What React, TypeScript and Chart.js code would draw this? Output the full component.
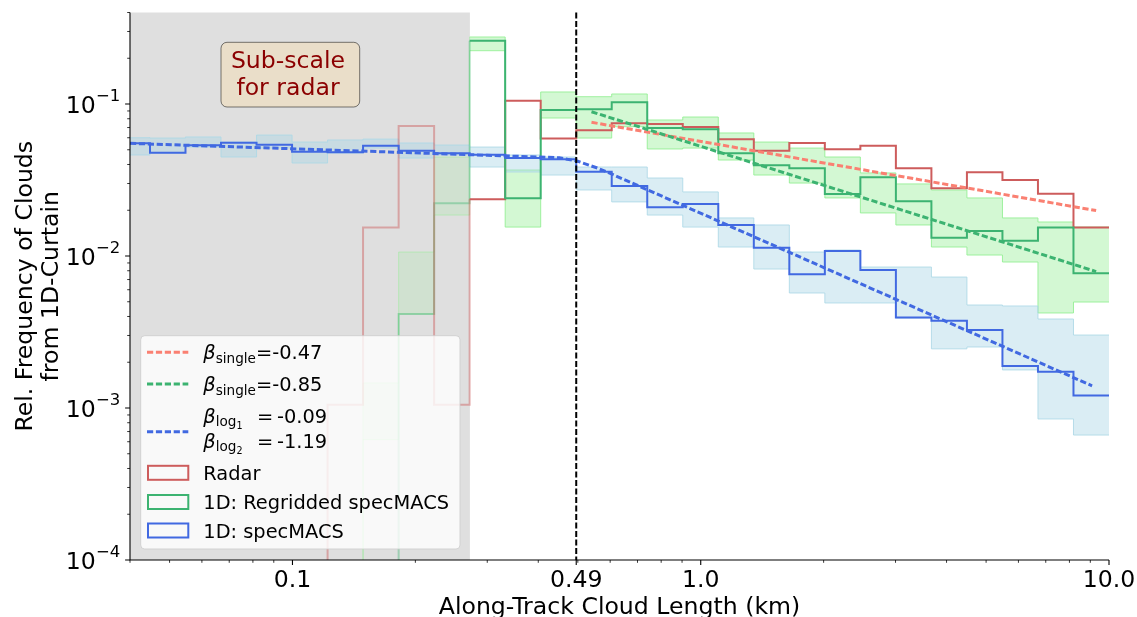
import React, { useEffect, useRef } from "react";
import { Chart, registerables } from "chart.js";

Chart.register(...registerables);

// ---------------- data ----------------
// logarithmic bin edges (km)
const BIN_EDGES = [
  0.03664, 0.04477, 0.0547, 0.06683, 0.08166, 0.09977, 0.1219, 0.1489, 0.182,
  0.2223, 0.2716, 0.3319, 0.4055, 0.4955, 0.6053, 0.7396, 0.9036, 1.1041,
  1.349, 1.6482, 2.0137, 2.4604, 3.0061, 3.6728, 4.4875, 5.4828, 6.6988,
  8.1846, 10.0,
];

// relative frequency per bin (0 = empty bin)
const RADAR = [
  0, 0, 0, 0, 0, 0, 0.00105, 0.0154, 0.0716, 0.00105, 0.0236, 0.105, 0.0593,
  0.0671, 0.0746, 0.0739, 0.0706, 0.0586, 0.0493, 0.0554, 0.0504, 0.0532,
  0.0378, 0.0279, 0.0356, 0.0316, 0.0257, 0.0154,
];
const REGRIDDED = [
  0, 0, 0, 0, 0, 0, 0, 0, 0.00416, 0.0222, 0.261, 0.024, 0.0913, 0.0923,
  0.1026, 0.0695, 0.0681, 0.0474, 0.0395, 0.0378, 0.0256, 0.033, 0.0229,
  0.0132, 0.0146, 0.0126, 0.0154, 0.0077,
];
const SPECMACS = [
  0.0551, 0.0478, 0.0535, 0.0556, 0.054, 0.0485, 0.0481, 0.0532, 0.0493,
  0.0474, 0.0464, 0.0441, 0.0433, 0.0359, 0.0289, 0.0209, 0.022, 0.016,
  0.01134, 0.00758, 0.01079, 0.00809, 0.00394, 0.00375, 0.00326, 0.00189,
  0.00173, 0.00121,
];

// spread of the individual realisations (upper / lower envelope)
const SPECMACS_HI = [
  0.06, 0.0597, 0.0607, 0.0562, 0.0625, 0.0562, 0.058, 0.0588, 0.0554, 0.0537,
  0.0521, 0.0462, 0.0448, 0.0385, 0.0385, 0.0326, 0.0264, 0.0178, 0.016,
  0.01062, 0.01095, 0.00846, 0.00846, 0.00727, 0.00476, 0.00469, 0.00385,
  0.00302,
];
const SPECMACS_LO = [
  0.0462, 0.0476, 0.0521, 0.0448, 0.0513, 0.0409, 0.0476, 0.0513, 0.0441,
  0.0462, 0.0385, 0.0357, 0.0341, 0.0272, 0.0227, 0.0186, 0.0155, 0.01146,
  0.00821, 0.00571, 0.00491, 0.00491, 0.00391, 0.00245, 0.00252, 0.00178,
  0.000847, 0.000664,
];
const REGRIDDED_HI = [
  0, 0, 0, 0, 0, 0, 0, 0.00146, 0.01062, 0.0448, 0.276, 0.0368, 0.12, 0.1117,
  0.1164, 0.0785, 0.0821, 0.0645, 0.0562, 0.0513, 0.0448, 0.0352, 0.0298,
  0.0272, 0.0241, 0.0178, 0.01674, 0.0155,
];
const REGRIDDED_LO = [
  0, 0, 0, 0, 0, 0, 0, 0.00062, 0.00415, 0.0186, 0.2242, 0.0155, 0.0809,
  0.0597, 0.0709, 0.0506, 0.0513, 0.0428, 0.0341, 0.0302, 0.0241, 0.0192,
  0.016, 0.01146, 0.01015, 0.00913, 0.00422, 0.00498,
];

// fitted power laws
const FIT_RADAR_X = [0.54, 9.3];
const FIT_RADAR_Y = [0.0758, 0.0199];
const FIT_REGRIDDED_X = [0.54, 9.3];
const FIT_REGRIDDED_Y = [0.089, 0.0079];
const FIT_SPECMACS_X = [0.04, 0.3, 0.45, 0.5, 0.56, 0.61, 9.09];
const FIT_SPECMACS_Y = [0.0551, 0.046, 0.0443, 0.042, 0.0378, 0.0343, 0.0014];

const SUBSCALE_EDGE_INDEX = 10; // bins left of this edge are sub-scale for radar
const SUBSCALE_LIMIT = 0.272;
const BREAK_X = 0.4955;

const X_MIN = 0.04;
const X_MAX = 10;
const Y_MIN = 1e-4;
const Y_MAX = 0.4;
const X_TICKS = [0.1, BREAK_X, 1, 10];
const X_TICK_LABELS = ["0.1", "0.49", "1.0", "10.0"];
const Y_TICKS = [1e-4, 1e-3, 1e-2, 1e-1];
const Y_TICK_EXPONENTS = ["\u22124", "\u22123", "\u22122", "\u22121"];

// ---------------- styles ----------------
const FONT = '"DejaVu Sans", "Noto Sans", sans-serif';
const C_RADAR = "#cd5c5c";
const C_REGRID = "#3cb371";
const C_SPEC = "#4169e1";
const C_RADAR_FADED = "rgba(205,92,92,0.45)";
const C_REGRID_FADED = "rgba(60,179,113,0.4)";
const C_SALMON = "#fa8072";
const FIT_DASH = [6.2, 2.7];

const ZERO = 1e-7; // empty bins are drawn below the axis

function pos(v: number) {
  return v > 0 ? v : ZERO;
}

function steps(vals: number[], from: number, to: number, closeEnd: boolean) {
  const pts: { x: number; y: number }[] = [];
  for (let i = from; i <= to && i < vals.length; i++) {
    pts.push({ x: BIN_EDGES[i], y: pos(vals[i]) });
  }
  if (closeEnd) {
    pts.push({ x: BIN_EDGES[vals.length], y: pos(vals[vals.length - 1]) });
  }
  return pts;
}

function xy(xs: number[], ys: number[]) {
  return xs.map((x, i) => ({ x, y: ys[i] }));
}

function roundRect(ctx: CanvasRenderingContext2D, x: number, y: number, w: number, h: number, r: number) {
  ctx.beginPath();
  ctx.moveTo(x + r, y);
  ctx.lineTo(x + w - r, y);
  ctx.arcTo(x + w, y, x + w, y + r, r);
  ctx.lineTo(x + w, y + h - r);
  ctx.arcTo(x + w, y + h, x + w - r, y + h, r);
  ctx.lineTo(x + r, y + h);
  ctx.arcTo(x, y + h, x, y + h - r, r);
  ctx.lineTo(x, y + r);
  ctx.arcTo(x, y, x + r, y, r);
  ctx.closePath();
}

type Run = { text: string; size: number; italic?: boolean; dy?: number; at?: number };

function drawRuns(ctx: CanvasRenderingContext2D, x: number, baseline: number, runs: Run[]) {
  let cx = x;
  for (const r of runs) {
    if (r.at !== undefined) cx = r.at;
    ctx.font = `${r.italic ? "italic " : ""}${r.size}px ${FONT}`;
    ctx.fillText(r.text, cx, baseline + (r.dy || 0));
    cx += ctx.measureText(r.text).width;
  }
}

const decorPlugin = {
  id: "decor",
  beforeDatasetsDraw(chart: any) {
    const { ctx, chartArea: a, scales } = chart;
    const xr = scales.x.getPixelForValue(SUBSCALE_LIMIT);
    ctx.save();
    ctx.fillStyle = "#dfdfdf";
    ctx.fillRect(a.left, a.top, xr - a.left, a.bottom - a.top);
    ctx.restore();
  },
  afterDatasetsDraw(chart: any) {
    const { ctx, chartArea: a, scales } = chart;
    const xp = scales.x.getPixelForValue(BREAK_X);
    ctx.save();
    ctx.strokeStyle = "#000";
    ctx.lineWidth = 2;
    ctx.setLineDash([6, 2.5]);
    ctx.beginPath();
    ctx.moveTo(xp, a.top);
    ctx.lineTo(xp, a.bottom);
    ctx.stroke();
    ctx.restore();
  },
  afterDraw(chart: any) {
    const { ctx, chartArea: a, scales } = chart;
    const xs = scales.x;
    const ys = scales.y;
    ctx.save();

    // spines
    ctx.strokeStyle = "#000";
    ctx.lineWidth = 1.1;
    ctx.beginPath();
    ctx.moveTo(a.left, a.top);
    ctx.lineTo(a.left, a.bottom);
    ctx.lineTo(a.right, a.bottom);
    ctx.stroke();

    // x ticks
    const xMinor: number[] = [];
    for (const d of [0.01, 0.1, 1]) for (let m = 2; m <= 9; m++) {
      const v = m * d;
      if (v >= X_MIN && v <= X_MAX) xMinor.push(v);
    }
    ctx.lineWidth = 0.8;
    ctx.beginPath();
    for (const v of xMinor) {
      const p = xs.getPixelForValue(v);
      ctx.moveTo(p, a.bottom);
      ctx.lineTo(p, a.bottom + 2.8);
    }
    ctx.stroke();
    ctx.lineWidth = 1.1;
    ctx.beginPath();
    for (const v of X_TICKS) {
      const p = xs.getPixelForValue(v);
      ctx.moveTo(p, a.bottom);
      ctx.lineTo(p, a.bottom + 4.9);
    }
    ctx.stroke();

    // y ticks
    const yMinor: number[] = [];
    for (const d of [1e-4, 1e-3, 1e-2, 1e-1]) for (let m = 2; m <= 9; m++) {
      const v = m * d;
      if (v >= Y_MIN && v <= Y_MAX * 1.0001) yMinor.push(v);
    }
    ctx.lineWidth = 0.8;
    ctx.beginPath();
    for (const v of yMinor) {
      const p = ys.getPixelForValue(v);
      ctx.moveTo(a.left, p);
      ctx.lineTo(a.left - 2.8, p);
    }
    ctx.stroke();
    ctx.lineWidth = 1.1;
    ctx.beginPath();
    for (const v of Y_TICKS) {
      const p = ys.getPixelForValue(v);
      ctx.moveTo(a.left, p);
      ctx.lineTo(a.left - 4.9, p);
    }
    ctx.stroke();

    // x tick labels
    ctx.fillStyle = "#000";
    ctx.font = `23.6px ${FONT}`;
    ctx.textAlign = "center";
    ctx.textBaseline = "alphabetic";
    X_TICKS.forEach((v, i) => {
      ctx.fillText(X_TICK_LABELS[i], xs.getPixelForValue(v), a.bottom + 27);
    });

    // y tick labels 10^{-k}
    ctx.textAlign = "left";
    Y_TICKS.forEach((v, i) => {
      const p = ys.getPixelForValue(v);
      ctx.font = `23.6px ${FONT}`;
      const w10 = ctx.measureText("10").width;
      ctx.font = `16.5px ${FONT}`;
      const ws = ctx.measureText(Y_TICK_EXPONENTS[i]).width;
      const x0 = a.left - 9.8 - w10 - ws;
      ctx.font = `23.6px ${FONT}`;
      ctx.fillText("10", x0, p + 8.6);
      ctx.font = `16.5px ${FONT}`;
      ctx.fillText(Y_TICK_EXPONENTS[i], x0 + w10, p - 2.8);
    });

    // axis titles
    ctx.font = `23.6px ${FONT}`;
    ctx.textAlign = "center";
    ctx.fillText("Along-Track Cloud Length (km)", (a.left + a.right) / 2, 614);
    const yMid = (a.top + a.bottom) / 2;
    ctx.save();
    ctx.translate(31.7, yMid);
    ctx.rotate(-Math.PI / 2);
    ctx.fillText("Rel. Frequency of Clouds", 0, 0);
    ctx.restore();
    ctx.save();
    ctx.translate(58.3, yMid);
    ctx.rotate(-Math.PI / 2);
    ctx.fillText("from 1D-Curtain", 0, 0);
    ctx.restore();

    // annotation box
    roundRect(ctx, 221, 42.3, 138.7, 64.7, 6);
    ctx.fillStyle = "rgba(245,222,179,0.5)";
    ctx.fill();
    ctx.strokeStyle = "rgba(0,0,0,0.5)";
    ctx.lineWidth = 1;
    ctx.stroke();
    ctx.fillStyle = "#8b0000";
    ctx.font = `23.6px ${FONT}`;
    ctx.textAlign = "center";
    ctx.fillText("Sub-scale", 288, 68.3);
    ctx.fillText("for radar", 288, 95);

    // legend
    roundRect(ctx, 140.7, 335.7, 319.3, 213.3, 4);
    ctx.fillStyle = "rgba(255,255,255,0.8)";
    ctx.fill();
    ctx.strokeStyle = "rgba(204,204,204,0.8)";
    ctx.lineWidth = 1;
    ctx.stroke();

    const hx0 = 147;
    const hx1 = 188.3;
    const dashed = (y: number, color: string) => {
      ctx.save();
      ctx.strokeStyle = color;
      ctx.lineWidth = 3;
      ctx.setLineDash(FIT_DASH);
      ctx.beginPath();
      ctx.moveTo(hx0, y);
      ctx.lineTo(hx1, y);
      ctx.stroke();
      ctx.restore();
    };
    const box = (yc: number, color: string) => {
      ctx.save();
      ctx.strokeStyle = color;
      ctx.lineWidth = 2;
      ctx.strokeRect(hx0 + 1, yc - 7, hx1 - hx0 - 1, 14);
      ctx.restore();
    };
    dashed(352.3, C_SALMON);
    dashed(384, C_REGRID);
    dashed(431.7, C_SPEC);
    box(472.8, C_RADAR);
    box(502, C_REGRID);
    box(530.5, C_SPEC);

    ctx.fillStyle = "#000";
    ctx.textAlign = "left";
    const tx = 203.3;
    drawRuns(ctx, tx, 359.3, [
      { text: "\u03b2", size: 19.4, italic: true },
      { text: "single", size: 13.6, dy: 3.5 },
      { text: "=-0.47", size: 19.4 },
    ]);
    drawRuns(ctx, tx, 391, [
      { text: "\u03b2", size: 19.4, italic: true },
      { text: "single", size: 13.6, dy: 3.5 },
      { text: "=-0.85", size: 19.4 },
    ]);
    drawRuns(ctx, tx, 422.7, [
      { text: "\u03b2", size: 19.4, italic: true },
      { text: "log", size: 13.6, dy: 3.5 },
      { text: "1", size: 9.6, dy: 6.5 },
      { text: "=", size: 19.4, at: 257 },
      { text: "-0.09", size: 19.4, at: 277 },
    ]);
    drawRuns(ctx, tx, 447.7, [
      { text: "\u03b2", size: 19.4, italic: true },
      { text: "log", size: 13.6, dy: 3.5 },
      { text: "2", size: 9.6, dy: 6.5 },
      { text: "=", size: 19.4, at: 257 },
      { text: "-1.19", size: 19.4, at: 277 },
    ]);
    ctx.font = `19.4px ${FONT}`;
    ctx.fillText("Radar", tx, 480);
    ctx.fillText("1D: Regridded specMACS", tx, 509);
    ctx.fillText("1D: specMACS", tx, 537.7);

    ctx.restore();
  },
};

function stepDataset(label: string, data: any[], color: string, width: number, order: number, extra: any = {}) {
  return {
    label,
    data,
    borderColor: color,
    borderWidth: width,
    backgroundColor: "transparent",
    stepped: "before",
    pointRadius: 0,
    fill: false,
    order,
    ...extra,
  };
}

export default function App() {
  const ref = useRef<HTMLCanvasElement | null>(null);

  useEffect(() => {
    if (!ref.current) return;
    const S = SUBSCALE_EDGE_INDEX;
    const last = SPECMACS.length - 1;

    const datasets: any[] = [
      // 0-1: specMACS realisations envelope
      stepDataset("specMACS lo", steps(SPECMACS_LO, 0, last, true), "rgba(173,216,230,0.85)", 1, 12),
      stepDataset("specMACS hi", steps(SPECMACS_HI, 0, last, true), "rgba(173,216,230,0.85)", 1, 12, {
        fill: "-1",
        backgroundColor: "rgba(173,216,230,0.45)",
      }),
      // 2-3: regridded realisations (sub-scale, faded)
      stepDataset("regrid lo faded", steps(REGRIDDED_LO, 6, S, false), "rgba(144,238,144,0.45)", 1, 13),
      stepDataset("regrid hi faded", steps(REGRIDDED_HI, 6, S, false), "rgba(144,238,144,0.45)", 1, 13, {
        fill: "-1",
        backgroundColor: "rgba(144,238,144,0.18)",
      }),
      // 4-5: regridded realisations
      stepDataset("regrid lo", steps(REGRIDDED_LO, S, last, true), "rgba(144,238,144,0.85)", 1, 13),
      stepDataset("regrid hi", steps(REGRIDDED_HI, S, last, true), "rgba(144,238,144,0.85)", 1, 13, {
        fill: "-1",
        backgroundColor: "rgba(144,238,144,0.4)",
      }),
      // faded sub-scale parts
      stepDataset("Radar faded", steps(RADAR, 5, S, false), C_RADAR_FADED, 2, 8),
      stepDataset("Regridded faded", steps(REGRIDDED, 7, S, false), C_REGRID_FADED, 2, 8),
      // main histograms
      stepDataset("Radar", steps(RADAR, S, last, true), C_RADAR, 2, 6),
      stepDataset("1D: Regridded specMACS", steps(REGRIDDED, S, last, true), C_REGRID, 2, 5),
      stepDataset("1D: specMACS", steps(SPECMACS, 0, last, true), C_SPEC, 2, 4),
      // fits
      {
        label: "fit radar",
        data: xy(FIT_RADAR_X, FIT_RADAR_Y),
        borderColor: C_SALMON,
        borderWidth: 3,
        borderDash: FIT_DASH,
        pointRadius: 0,
        fill: false,
        order: 3,
      },
      {
        label: "fit regridded",
        data: xy(FIT_REGRIDDED_X, FIT_REGRIDDED_Y),
        borderColor: C_REGRID,
        borderWidth: 3,
        borderDash: FIT_DASH,
        pointRadius: 0,
        fill: false,
        order: 2,
      },
      {
        label: "fit specMACS",
        data: xy(FIT_SPECMACS_X, FIT_SPECMACS_Y),
        borderColor: C_SPEC,
        borderWidth: 3,
        borderDash: FIT_DASH,
        pointRadius: 0,
        fill: false,
        order: 1,
      },
    ];

    const chart = new Chart(ref.current, {
      type: "line",
      data: { datasets },
      options: {
        animation: false,
        responsive: false,
        maintainAspectRatio: false,
        devicePixelRatio: 1,
        layout: { padding: { left: 130, right: 28, top: 12.5, bottom: 57 } },
        plugins: {
          legend: { display: false },
          tooltip: { enabled: false },
        },
        elements: { point: { radius: 0 }, line: { tension: 0 } },
        scales: {
          x: { type: "logarithmic", min: X_MIN, max: X_MAX, display: false },
          y: { type: "logarithmic", min: Y_MIN, max: Y_MAX, display: false },
        },
      } as any,
      plugins: [decorPlugin],
    });
    return () => chart.destroy();
  }, []);

  return (
    <div style={{ position: "absolute", left: 0, top: 0, width: 1137, height: 617, background: "#fff" }}>
      <canvas ref={ref} width={1137} height={617} style={{ display: "block" }} />
    </div>
  );
}
